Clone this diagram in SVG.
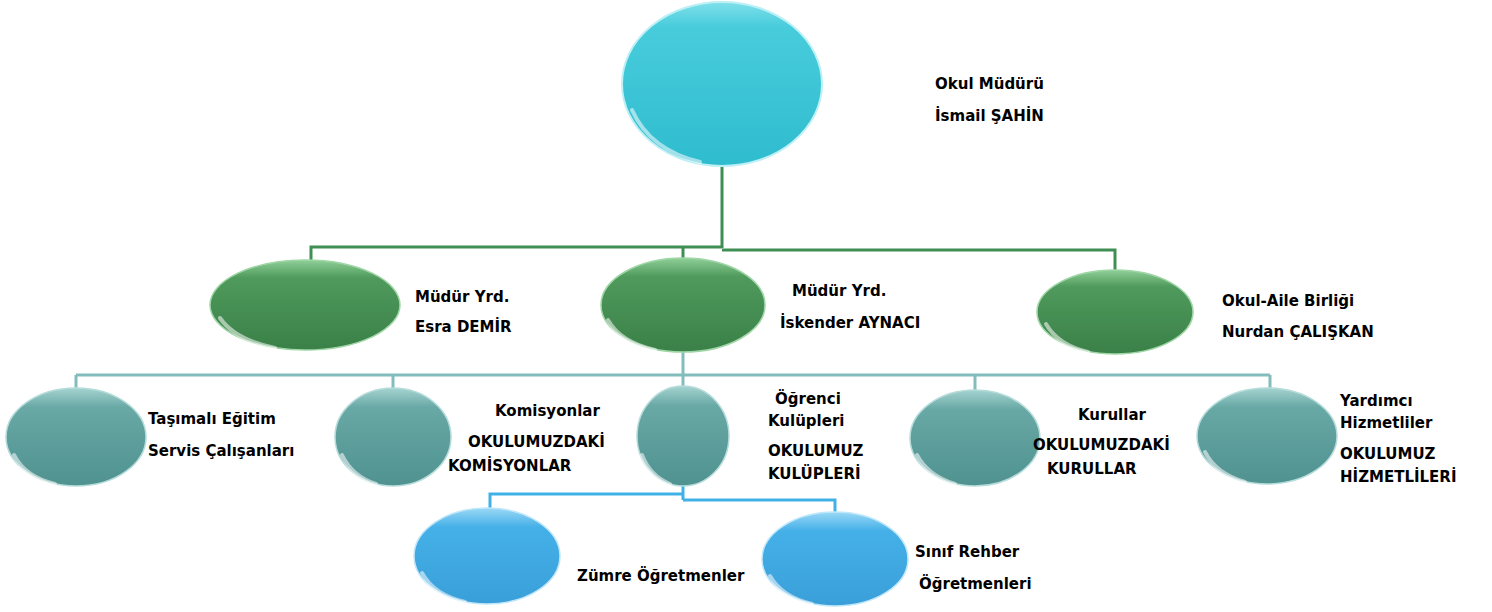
<svg xmlns="http://www.w3.org/2000/svg" width="1492" height="612" viewBox="0 0 1492 612">
<defs>
<linearGradient id="gCyan" x1="0" y1="0" x2="0" y2="1"><stop offset="0" stop-color="#7fe0ea"/><stop offset="0.15" stop-color="#48ccdc"/><stop offset="1" stop-color="#2fbccf"/></linearGradient>
<linearGradient id="gGreen" x1="0" y1="0" x2="0" y2="1"><stop offset="0" stop-color="#8fcf98"/><stop offset="0.2" stop-color="#4f9a5c"/><stop offset="1" stop-color="#3a8048"/></linearGradient>
<linearGradient id="gTeal" x1="0" y1="0" x2="0" y2="1"><stop offset="0" stop-color="#a5d3d0"/><stop offset="0.2" stop-color="#68a8a5"/><stop offset="1" stop-color="#4f9290"/></linearGradient>
<linearGradient id="gBlue" x1="0" y1="0" x2="0" y2="1"><stop offset="0" stop-color="#9ad8f6"/><stop offset="0.2" stop-color="#45b0e8"/><stop offset="1" stop-color="#3a9fd9"/></linearGradient>
<style>
.t{font-family:"DejaVu Sans","Liberation Sans",sans-serif;font-weight:bold;font-size:15px;fill:#000}
.hl{fill:none;stroke:#fff;stroke-opacity:0.55;stroke-width:4;stroke-linecap:round}
.lg{fill:none;stroke:#3f8f55;stroke-width:3}
.lt{fill:none;stroke:#82bdbb;stroke-width:3}
.lb{fill:none;stroke:#3fb1e6;stroke-width:3}
</style>
</defs>
<g id="connectors">
<path class="lg" d="M722 166 V248 M722 247 H311 V262 M683 247 V260 M722 250 H1115 V270"/>
<path class="lt" d="M683 352 V375 M76 375 H1270 M76 375 V390 M393 375 V390 M683 375 V387 M975 375 V392 M1270 375 V390"/>
<path class="lb" d="M683 485 V500 M683 494 H490 V510 M683 500 H835 V514"/>
</g>
<g id="n-mudur">
<ellipse cx="722" cy="84" rx="100" ry="82" fill="url(#gCyan)" stroke="#bdf0f5" stroke-width="2"/>
<path class="hl" d="M632 110 Q650 150 700 162"/>
<text class="t" x="935" y="89">Okul Müdürü</text>
<text class="t" x="935" y="121">İsmail ŞAHİN</text>
</g>
<g id="n-esra">
<ellipse cx="305" cy="305" rx="95" ry="45" fill="url(#gGreen)" stroke="#9fd6a6" stroke-width="1.5"/>
<path class="hl" d="M220 318 Q235 340 275 348"/>
<text class="t" x="415" y="302">Müdür Yrd.</text>
<text class="t" x="415" y="332">Esra DEMİR</text>
</g>
<g id="n-iskender">
<ellipse cx="683" cy="305" rx="82" ry="47" fill="url(#gGreen)" stroke="#9fd6a6" stroke-width="1.5"/>
<path class="hl" d="M608 320 Q620 342 655 350"/>
<text class="t" x="792" y="296">Müdür Yrd.</text>
<text class="t" x="780" y="328">İskender AYNACI</text>
</g>
<g id="n-aile">
<ellipse cx="1115" cy="312" rx="78" ry="42" fill="url(#gGreen)" stroke="#9fd6a6" stroke-width="1.5"/>
<path class="hl" d="M1046 324 Q1058 345 1088 352"/>
<text class="t" x="1222" y="306">Okul-Aile Birliği</text>
<text class="t" x="1222" y="337">Nurdan ÇALIŞKAN</text>
</g>
<g id="n-tasimali">
<ellipse cx="76" cy="437" rx="70" ry="49" fill="url(#gTeal)" stroke="#b5dcda" stroke-width="1.5"/>
<path class="hl" d="M14 455 Q25 477 55 484"/>
<text class="t" x="148" y="424">Taşımalı Eğitim</text>
<text class="t" x="148" y="456">Servis Çalışanları</text>
</g>
<g id="n-komisyon">
<ellipse cx="393" cy="437" rx="58" ry="49" fill="url(#gTeal)" stroke="#b5dcda" stroke-width="1.5"/>
<path class="hl" d="M342 455 Q352 476 376 484"/>
<text class="t" x="495" y="416">Komisyonlar</text>
<text class="t" x="468" y="447">OKULUMUZDAKİ</text>
<text class="t" x="448" y="471">KOMİSYONLAR</text>
</g>
<g id="n-kulup">
<ellipse cx="683" cy="436" rx="46" ry="50" fill="url(#gTeal)" stroke="#b5dcda" stroke-width="1.5"/>
<path class="hl" d="M642 455 Q650 476 670 484"/>
<text class="t" x="775" y="404">Öğrenci</text>
<text class="t" x="768" y="426">Kulüpleri</text>
<text class="t" x="768" y="456">OKULUMUZ</text>
<text class="t" x="768" y="479">KULÜPLERİ</text>
</g>
<g id="n-kurul">
<ellipse cx="975" cy="438" rx="65" ry="48" fill="url(#gTeal)" stroke="#b5dcda" stroke-width="1.5"/>
<path class="hl" d="M917 455 Q928 476 955 484"/>
<text class="t" x="1078" y="420">Kurullar</text>
<text class="t" x="1033" y="450">OKULUMUZDAKİ</text>
<text class="t" x="1047" y="474">KURULLAR</text>
</g>
<g id="n-hizmetli">
<ellipse cx="1267" cy="436" rx="70" ry="48" fill="url(#gTeal)" stroke="#b5dcda" stroke-width="1.5"/>
<path class="hl" d="M1205 452 Q1216 474 1245 482"/>
<text class="t" x="1340" y="406">Yardımcı</text>
<text class="t" x="1340" y="428">Hizmetliler</text>
<text class="t" x="1340" y="459">OKULUMUZ</text>
<text class="t" x="1340" y="482">HİZMETLİLERİ</text>
</g>
<g id="n-zumre">
<ellipse cx="487" cy="556" rx="73" ry="48" fill="url(#gBlue)" stroke="#bfe7fa" stroke-width="1.5"/>
<path class="hl" d="M422 573 Q434 595 465 602"/>
<text class="t" x="577" y="581">Zümre Öğretmenler</text>
</g>
<g id="n-rehber">
<ellipse cx="835" cy="559" rx="73" ry="47" fill="url(#gBlue)" stroke="#bfe7fa" stroke-width="1.5"/>
<path class="hl" d="M770 576 Q782 597 812 604"/>
<text class="t" x="915" y="557">Sınıf Rehber</text>
<text class="t" x="919" y="589">Öğretmenleri</text>
</g>
</svg>
